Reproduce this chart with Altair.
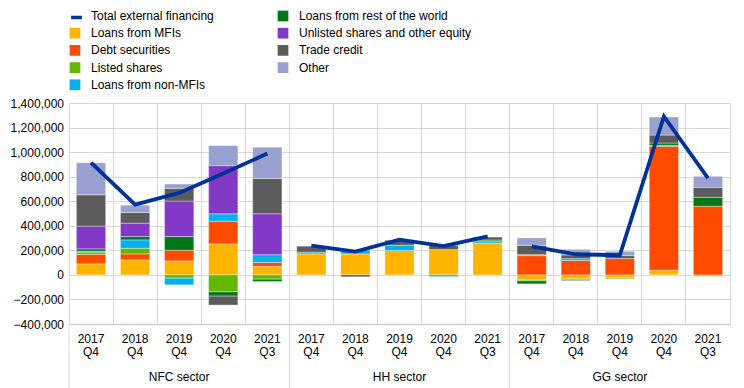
import altair as alt
import pandas as pd

sector_codes = ["NFC", "HH", "GG"]
sector_labels = ["NFC sector", "HH sector", "GG sector"]
periods = ["2017 Q4", "2018 Q4", "2019 Q4", "2020 Q4", "2021 Q3"]

# values in EUR thousands, order: NFC x5, HH x5, GG x5
loans_mfi = [90, 122, 114, 252, 68, 171, 171, 198, 206, 260, -41, -33, -24, 38, -11]
debt_securities = [76, 49, 87, 185, 33, 0, 0, 0, 0, 0, 157, 117, 133, 1009, 559]
listed_shares = [19, 46, -27, -138, -35, 0, 0, 0, 0, 0, -8, -5, -8, 0, 0]
loans_non_mfi = [8, 68, -54, 60, 63, 14, 30, 43, -14, 16, 8, 15, 0, 8, 0]
loans_row = [19, 27, 111, -35, -19, 0, 0, 0, 0, 8, -24, -8, 0, 19, 73]
unlisted_equity = [185, 109, 290, 393, 334, 0, 0, 0, 0, 0, 0, 0, 0, 0, 0]
trade_credit = [255, 87, 103, -73, 287, 49, -16, 41, 35, 24, 76, 30, 24, 65, 81]
other = [262, 60, 35, 163, 255, 0, 0, 0, 0, 0, 60, 46, 35, 147, 90]
total_financing = [915, 572, 668, 825, 988, 238, 190, 287, 234, 313, 233, 168, 160, 1290, 788]

series_names = ["Loans from MFIs", "Debt securities", "Listed shares", "Loans from non-MFIs",
                "Loans from rest of the world", "Unlisted shares and other equity",
                "Trade credit", "Other"]
series_values = [loans_mfi, debt_securities, listed_shares, loans_non_mfi,
                 loans_row, unlisted_equity, trade_credit, other]
TOTAL = "Total external financing"
series_colors = {
    TOTAL: "rgba(0,0,0,0)",
    "Loans from MFIs": "#FFB400",
    "Debt securities": "#FF4B00",
    "Listed shares": "#65B800",
    "Loans from non-MFIs": "#00B1EA",
    "Loans from rest of the world": "#007816",
    "Unlisted shares and other equity": "#8139C6",
    "Trade credit": "#5C5C5C",
    "Other": "#98A1D0",
}
line_color = "#003299"
legend_order = [TOTAL] + series_names
y_ticks = [-400000, -200000, 0, 200000, 400000, 600000, 800000, 1000000, 1200000, 1400000]

keys = [f"{p} {s}" for s in sector_codes for p in periods]
key_sector = [s for s in sector_codes for p in periods]

rows = []
for si, (name, vals) in enumerate(zip(series_names, series_values)):
    for k, sec, v in zip(keys, key_sector, vals):
        if v != 0:
            rows.append({"key": k, "sector": sec, "series": name, "value": v * 1000, "ord": si})
df = pd.DataFrame(rows)

tot_df = pd.DataFrame({"key": keys, "sector": key_sector,
                       "total": [t * 1000 for t in total_financing],
                       "line": TOTAL})

sec_df = pd.DataFrame({"key": [f"2019 Q4 {s}" for s in sector_codes], "label": sector_labels})
start_df = pd.DataFrame({"key": [f"2017 Q4 {s}" for s in sector_codes]})

W, H = 661, 221
FONT = "Arial, Liberation Sans"
GRID = "#D9D9D9"
LX, LY = 0, -93

xscale = alt.Scale(domain=keys, paddingInner=0, paddingOuter=0)
yscale = alt.Scale(domain=[-400000, 1400000], nice=False, zero=True)
x_axis = alt.Axis(title=None, bandPosition=0, grid=True, gridColor=GRID, ticks=False,
                  domain=True, domainColor="#D0D0D0", domainWidth=1.5,
                  labelExpr="slice(split(datum.label, ' '), 0, 2)", labelAngle=0,
                  labelPadding=9, labelFontSize=12, labelLineHeight=13.5,
                  labelOverlap=False, labelBaseline="top", labelColor="#000000", labelFont=FONT)
y_axis = alt.Axis(title=None, values=y_ticks, format=",.0f", tickCount=10,
                  grid=True, gridColor=GRID, ticks=False, domain=False, labelPadding=5.5,
                  labelOverlap=False, labelFontSize=12, labelColor="#000000", labelFont=FONT)

fill_legend = alt.Legend(
    title=None, orient="none", legendX=LX, legendY=LY, columns=2,
    symbolType="square", symbolSize=115, symbolStrokeWidth=0,
    labelFontSize=12, labelFont=FONT, labelColor="#000000", labelOffset=10, labelLimit=400,
    columnPadding=63, rowPadding=5.2, padding=0,
)
line_legend = alt.Legend(
    title=None, orient="none", legendX=LX, legendY=LY,
    symbolType="stroke", symbolSize=115, symbolStrokeWidth=3.5,
    labelFontSize=12, labelFont=FONT, labelExpr="''", labelOffset=10,
    padding=0,
)

bars = alt.Chart(df).mark_bar(width={"band": 0.665}, stroke="white", strokeWidth=0.6, strokeOpacity=0.6).encode(
    x=alt.X("key:N", sort=keys, scale=xscale, axis=x_axis),
    y=alt.Y("value:Q", stack="zero", scale=yscale, axis=y_axis),
    color=alt.Color("series:N",
                    scale=alt.Scale(domain=legend_order, range=[series_colors[s] for s in legend_order]),
                    legend=fill_legend),
    order=alt.Order("ord:Q", sort="ascending"),
)

line = alt.Chart(tot_df).mark_line(strokeWidth=3.8).encode(
    x=alt.X("key:N", sort=keys, scale=xscale, axis=x_axis),
    y=alt.Y("total:Q", scale=yscale, axis=y_axis),
    stroke=alt.Stroke("line:N", scale=alt.Scale(domain=[TOTAL], range=[line_color]), legend=line_legend),
    detail="sector:N",
)

long_sep = alt.Chart(start_df).mark_rule(color=GRID, strokeWidth=1).encode(
    x=alt.X("key:N", sort=keys, scale=xscale, bandPosition=0),
    y=alt.value(H), y2=alt.value(H + 70),
)
sec_text = alt.Chart(sec_df).mark_text(fontSize=12, font=FONT, color="#000000", baseline="middle").encode(
    x=alt.X("key:N", sort=keys, scale=xscale),
    y=alt.value(H + 53),
    text="label:N",
)

chart = alt.layer(bars, line, long_sep, sec_text).properties(
    width=W, height=H,
    autosize=alt.AutoSizeParams(type="none"),
    padding={"left": 61, "top": 95, "right": 6, "bottom": 72},
).configure_view(stroke=GRID).configure(font=FONT)

chart.save("out.html", embed_options={"renderer": "svg", "actions": False})
